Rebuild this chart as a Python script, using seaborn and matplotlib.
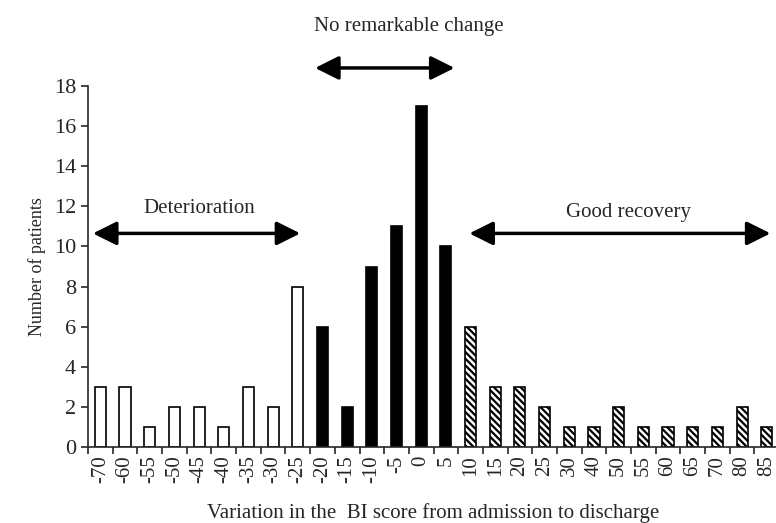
import numpy as np
import pandas as pd
import matplotlib
matplotlib.use('Agg')
import matplotlib.pyplot as plt
import seaborn as sns

scores = ['-70', '-60', '-55', '-50', '-45', '-40', '-35', '-30', '-25',
          '-20', '-15', '-10', '-5', '0', '5',
          '10', '15', '20', '25', '30', '40', '50', '55', '60', '65', '70', '80', '85']
patients = [3, 3, 1, 2, 2, 1, 3, 2, 8,
            6, 2, 9, 11, 17, 10,
            6, 3, 3, 2, 1, 1, 2, 1, 1, 1, 1, 2, 1]
groups = ['Deterioration'] * 9 + ['No remarkable change'] * 6 + ['Good recovery'] * 13

df = pd.DataFrame({'score': scores, 'count': patients, 'group': groups})

sns.set_style('ticks')
plt.rcParams['font.family'] = ['Liberation Serif', 'DejaVu Serif']
plt.rcParams['hatch.linewidth'] = 1.6

fig = plt.figure(figsize=(7.76, 5.23), dpi=100)
ax = fig.add_axes([88 / 776, 76 / 523, 1 - 88 / 776 + 0.004, 361 / 523])

pal = {'Deterioration': 'white', 'No remarkable change': 'black', 'Good recovery': 'white'}
sns.barplot(data=df, x='score', y='count', hue='group', palette=pal, order=scores,
            hue_order=['Deterioration', 'No remarkable change', 'Good recovery'],
            dodge=False, width=0.45, edgecolor='black', linewidth=1.2, legend=False,
            saturation=1, ax=ax)

# hatch the recovery bars (positions 15 and up)
for p in ax.patches:
    xc = p.get_x() + p.get_width() / 2
    if round(xc) >= 15 and p.get_height() > 0:
        p.set_hatch('\\\\\\\\\\')

ax.set_ylim(0, 18)
ax.set_yticks(range(0, 19, 2))
ax.set_xlim(-0.5, 27.5)
ax.set_xticks(range(len(scores)))
ax.set_xticklabels(scores, rotation=90, fontsize=15)
ax.set_xticks(np.arange(-0.5, 27.6, 1), minor=True)
ax.tick_params(axis='x', which='major', length=0, pad=6)
ax.tick_params(axis='x', which='minor', length=5, width=1.2, direction='out')
ax.tick_params(axis='y', labelsize=16, length=5, width=1.2)
sns.despine(ax=ax, right=True, top=True)
for s in ['left', 'bottom']:
    ax.spines[s].set_linewidth(1.2)

ax.set_xlabel('Variation in the  BI score from admission to discharge', fontsize=15, labelpad=14)
ax.set_ylabel('Number of patients', fontsize=13, labelpad=6)

arrow = dict(arrowstyle='<|-|>,head_length=0.72,head_width=0.36', color='black', lw=2.5,
             mutation_scale=20, shrinkA=0, shrinkB=0)
ax.annotate('', xy=(-0.3, 10.65), xytext=(8.1, 10.65), arrowprops=arrow)
ax.annotate('', xy=(8.7, 18.9), xytext=(14.35, 18.9), arrowprops=arrow, annotation_clip=False)
ax.annotate('', xy=(14.95, 10.65), xytext=(27.15, 10.65), arrowprops=arrow)

ax.text(4.0, 11.9, 'Deterioration', ha='center', va='center', fontsize=15)
ax.text(12.5, 20.95, 'No remarkable change', ha='center', va='center', fontsize=15, clip_on=False)
ax.text(21.4, 11.7, 'Good recovery', ha='center', va='center', fontsize=15)

fig.savefig('out.png', dpi=100)
